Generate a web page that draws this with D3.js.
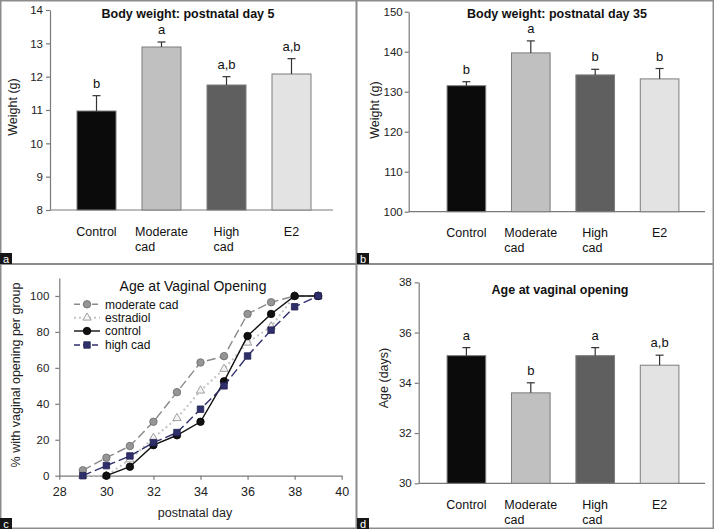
<!DOCTYPE html>
<html>
<head>
<meta charset="utf-8">
<script src="https://cdn.jsdelivr.net/npm/d3@7"></script>
<style>
html,body{margin:0;padding:0;background:#fff;}
svg{display:block;font-family:"Liberation Sans",Arial,sans-serif;}
</style>
</head>
<body>
<svg id="chart" width="714" height="529"></svg>
<script>
// ---------- DATA ----------
const groups = ["Control", "Moderate cad", "High cad", "E2"];
const groupLines = [["Control"], ["Moderate", "cad"], ["High", "cad"], ["E2"]];
const barColors = ["#0b0b0b", "#c0c0c0", "#5f5f5f", "#e3e3e3"];

const weightDay5 = [10.97, 12.89, 11.75, 12.08];
const weightDay5Err = [0.46, 0.15, 0.25, 0.46];
const weightDay5Letters = ["b", "a", "a,b", "a,b"];
const weightDay5Ticks = [8, 9, 10, 11, 12, 13, 14];

const weightDay35 = [131.5, 139.7, 134.2, 133.2];
const weightDay35Err = [1.0, 3.0, 1.4, 2.6];
const weightDay35Letters = ["b", "a", "b", "b"];
const weightDay35Ticks = [100, 110, 120, 130, 140, 150];

const ageVO = [35.08, 33.6, 35.08, 34.7];
const ageVOErr = [0.32, 0.4, 0.32, 0.4];
const ageVOLetters = ["a", "b", "a", "a,b"];
const ageVOTicks = [30, 32, 34, 36, 38];

const dayTicks = [28, 30, 32, 34, 36, 38, 40];
const pctTicks = [0, 20, 40, 60, 80, 100];
const modCadDays = [29, 30, 31, 32, 33, 34, 35, 36, 37, 38, 39];
const modCadPct = [3, 10, 16.5, 30, 46.5, 63, 66.5, 90, 96.5, 100, 100];
const estradiolDays = [29, 30, 31, 32, 33, 34, 35, 36, 37, 38, 39];
const estradiolPct = [0, 0, 9, 21, 32, 47.3, 59.4, 74, 83, 100, 100];
const controlDays = [30, 31, 32, 33, 34, 35, 36, 37, 38, 39];
const controlPct = [0, 5, 17, 22.5, 30, 52.5, 77.7, 90, 100, 100];
const highCadDays = [29, 30, 31, 32, 33, 34, 35, 36, 37, 38, 39];
const highCadPct = [0, 5.6, 11, 18.4, 24, 37, 50, 66.6, 81, 94, 100];

// ---------- SETUP ----------
const svg = d3.select("#chart");
const AX = "#7a7a7a";
const FS = 12.5;
const fmt = d3.format("d");

function styleAxis(g, fs) {
  g.selectAll("path.domain").attr("stroke", AX).attr("stroke-width", 1.2);
  g.selectAll(".tick line").attr("stroke", AX).attr("stroke-width", 1.2);
  g.selectAll(".tick text").attr("fill", "#222").style("font-size", (fs || 11.5) + "px")
    .style("font-family", '"Liberation Sans",Arial,sans-serif');
}

function barPanel(opt) {
  const g = svg.append("g");
  const y = d3.scaleLinear().domain(opt.domain).range(opt.yRange);
  const x = d3.scaleBand().domain(groups).range(opt.xRange).paddingInner(0.4).paddingOuter(0.2);

  const ya = g.append("g").attr("transform", `translate(${opt.axisX},0)`)
    .call(d3.axisLeft(y).tickValues(opt.ticks).tickFormat(fmt).tickSize(4).tickPadding(opt.tickPad).tickSizeOuter(0));
  styleAxis(ya);
  g.append("line").attr("x1", opt.axisX).attr("x2", opt.axisEnd)
    .attr("y1", y(opt.domain[0])).attr("y2", y(opt.domain[0]))
    .attr("stroke", AX).attr("stroke-width", 1.2);

  g.selectAll("rect.bar").data(opt.values).join("rect")
    .attr("x", (d, i) => x(groups[i]))
    .attr("width", x.bandwidth())
    .attr("y", d => y(d))
    .attr("height", d => y(opt.domain[0]) - y(d))
    .attr("fill", (d, i) => barColors[i])
    .attr("stroke", "#7d7d7d").attr("stroke-width", 1);

  opt.values.forEach((v, i) => {
    const cx = x(groups[i]) + x.bandwidth() / 2;
    const top = y(v + opt.err[i]);
    g.append("line").attr("x1", cx).attr("x2", cx).attr("y1", y(v)).attr("y2", top)
      .attr("stroke", "#333").attr("stroke-width", 1.2);
    g.append("line").attr("x1", cx - 4).attr("x2", cx + 4).attr("y1", top).attr("y2", top)
      .attr("stroke", "#333").attr("stroke-width", 1.2);
    g.append("text").attr("x", cx).attr("y", top - 8).attr("text-anchor", "middle")
      .style("font-size", "13px").attr("fill", "#111").text(opt.letters[i]);
  });

  groupLines.forEach((lines, i) => {
    const cx = x(groups[i]) + x.bandwidth() / 2;
    const t = g.append("text").attr("y", y(opt.domain[0]) + opt.labelDy)
      .style("font-size", FS + "px").attr("fill", "#111");
    lines.forEach((ln, j) => {
      t.append("tspan").attr("x", cx).attr("dy", j === 0 ? 0 : 15)
        .attr("text-anchor", lines.length > 1 ? "start" : "middle").text(ln);
    });
    if (lines.length > 1) {
      const w = t.node().getBBox().width;
      t.selectAll("tspan").attr("x", cx - w / 2);
    }
  });

  g.append("text").attr("x", opt.titleX).attr("y", opt.titleY).attr("text-anchor", "middle")
    .style("font-size", FS + "px").style("font-weight", "bold").attr("fill", "#111").text(opt.title);
  g.append("text").attr("transform", `translate(${opt.ylabX},${opt.ylabY}) rotate(-90)`)
    .attr("text-anchor", "middle").style("font-size", "12.5px").attr("fill", "#222").text(opt.ylab);
}

barPanel({
  domain: [8, 14], yRange: [210, 10], xRange: [64, 324], axisX: 50, axisEnd: 333,
  ticks: weightDay5Ticks, tickPad: 3, values: weightDay5, err: weightDay5Err, letters: weightDay5Letters,
  labelDy: 26, title: "Body weight: postnatal day 5", titleX: 188, titleY: 17.5,
  ylab: "Weight (g)", ylabX: 17, ylabY: 107
});
barPanel({
  domain: [100, 150], yRange: [211.7, 11.7], xRange: [434.2, 691.8], axisX: 408.7, axisEnd: 705,
  ticks: weightDay35Ticks, tickPad: 2, values: weightDay35, err: weightDay35Err, letters: weightDay35Letters,
  labelDy: 25, title: "Body weight: postnatal day 35", titleX: 557, titleY: 17.5,
  ylab: "Weight (g)", ylabX: 379, ylabY: 110
});
barPanel({
  domain: [30, 38], yRange: [483.3, 282.3], xRange: [434.2, 691.8], axisX: 418.7, axisEnd: 705,
  ticks: ageVOTicks, tickPad: 3, values: ageVO, err: ageVOErr, letters: ageVOLetters,
  labelDy: 26, title: "Age at vaginal opening", titleX: 560, titleY: 294,
  ylab: "Age (days)", ylabX: 388, ylabY: 378
});

// ---------- LINE PANEL (c) ----------
(function () {
  const g = svg.append("g");
  const x = d3.scaleLinear().domain([28, 40]).range([59.3, 341.7]);
  const y = d3.scaleLinear().domain([0, 110]).range([475.7, 278]);

  const ya = g.append("g").attr("transform", `translate(${x(28)},0)`)
    .call(d3.axisLeft(y).tickValues(pctTicks).tickFormat(fmt).tickSize(4).tickPadding(6).tickSizeOuter(0));
  styleAxis(ya, 11.5);
  const xa = g.append("g").attr("transform", `translate(0,${y(0)})`)
    .call(d3.axisBottom(x).tickValues(dayTicks).tickFormat(fmt).tickSize(4).tickPadding(7).tickSizeOuter(0));
  styleAxis(xa, 12.5);

  const series = [
    { name: "moderate cad", days: modCadDays, vals: modCadPct, stroke: "#8a8a8a", dash: "9,4", shape: "circle", fill: "#959595", mstroke: "#6a6a6a" },
    { name: "estradiol", days: estradiolDays, vals: estradiolPct, stroke: "#c4c4c4", dash: "2,3", shape: "triangle", fill: "#f4f4f4", mstroke: "#8a8a8a" },
    { name: "control", days: controlDays, vals: controlPct, stroke: "#111", dash: null, shape: "circle", fill: "#111", mstroke: "#000" },
    { name: "high cad", days: highCadDays, vals: highCadPct, stroke: "#2f2f6c", dash: "9,4", shape: "square", fill: "#2f2f6c", mstroke: "#22224f" }
  ];
  const sym = { circle: d3.symbolCircle, triangle: d3.symbolTriangle, square: d3.symbolSquare };
  const size = { circle: 44, triangle: 30, square: 42 };

  const line = d3.line().x(d => x(d[0])).y(d => y(d[1]));
  series.forEach(s => {
    const pts = s.days.map((d, i) => [d, s.vals[i]]);
    g.append("path").attr("d", line(pts)).attr("fill", "none").attr("stroke", s.stroke)
      .attr("stroke-width", s.name === "estradiol" ? 2 : 1.4).attr("stroke-dasharray", s.dash);
    g.selectAll(null).data(pts).join("path")
      .attr("transform", d => `translate(${x(d[0])},${y(d[1])})`)
      .attr("d", d3.symbol().type(sym[s.shape]).size(size[s.shape]))
      .attr("fill", s.fill).attr("stroke", s.mstroke).attr("stroke-width", 0.8);
  });

  const ly = [304.3, 317.7, 331, 345];
  series.forEach((s, i) => {
    g.append("line").attr("x1", 74).attr("x2", 100).attr("y1", ly[i]).attr("y2", ly[i])
      .attr("stroke", s.stroke).attr("stroke-width", s.name === "estradiol" ? 2 : 1.4)
      .attr("stroke-dasharray", s.name === "estradiol" ? "2,3" : (s.dash ? "6,3" : null));
    g.append("path").attr("transform", `translate(87,${ly[i]})`)
      .attr("d", d3.symbol().type(sym[s.shape]).size(size[s.shape]))
      .attr("fill", s.fill).attr("stroke", s.mstroke).attr("stroke-width", 0.8);
    g.append("text").attr("x", 105).attr("y", ly[i]).attr("dy", "0.35em")
      .style("font-size", "12px").attr("fill", "#111").text(s.name);
  });

  g.append("text").attr("x", 193).attr("y", 291).attr("text-anchor", "middle")
    .style("font-size", "14px").attr("fill", "#111").text("Age at Vaginal Opening");
  g.append("text").attr("x", 195).attr("y", 517).attr("text-anchor", "middle")
    .style("font-size", "12.5px").attr("fill", "#222").text("postnatal day");
  g.append("text").attr("transform", `translate(20,375) rotate(-90)`).attr("text-anchor", "middle")
    .style("font-size", "12.5px").attr("fill", "#222").text("% with vaginal opening per group");
})();

// ---------- FRAME & PANEL LETTERS ----------
const frameCol = "#8c8c8c";
svg.append("rect").attr("x", 0.75).attr("y", 0.75).attr("width", 712.5).attr("height", 527.5)
  .attr("fill", "none").attr("stroke", frameCol).attr("stroke-width", 1.5);
svg.append("line").attr("x1", 356.5).attr("x2", 356.5).attr("y1", 0).attr("y2", 529)
  .attr("stroke", frameCol).attr("stroke-width", 2);
svg.append("line").attr("x1", 0).attr("x2", 714).attr("y1", 264).attr("y2", 264)
  .attr("stroke", frameCol).attr("stroke-width", 2);

const panelLetters = [["a", 0, 253], ["b", 357, 253], ["c", 0, 518], ["d", 357, 518]];
panelLetters.forEach(([l, px, py]) => {
  svg.append("rect").attr("x", px).attr("y", py).attr("width", 12).attr("height", 11).attr("fill", "#161616");
  svg.append("text").attr("x", px + 6).attr("y", py + 9.5).attr("text-anchor", "middle")
    .style("font-size", "11px").attr("fill", "#fff").text(l);
});
</script>
</body>
</html>
